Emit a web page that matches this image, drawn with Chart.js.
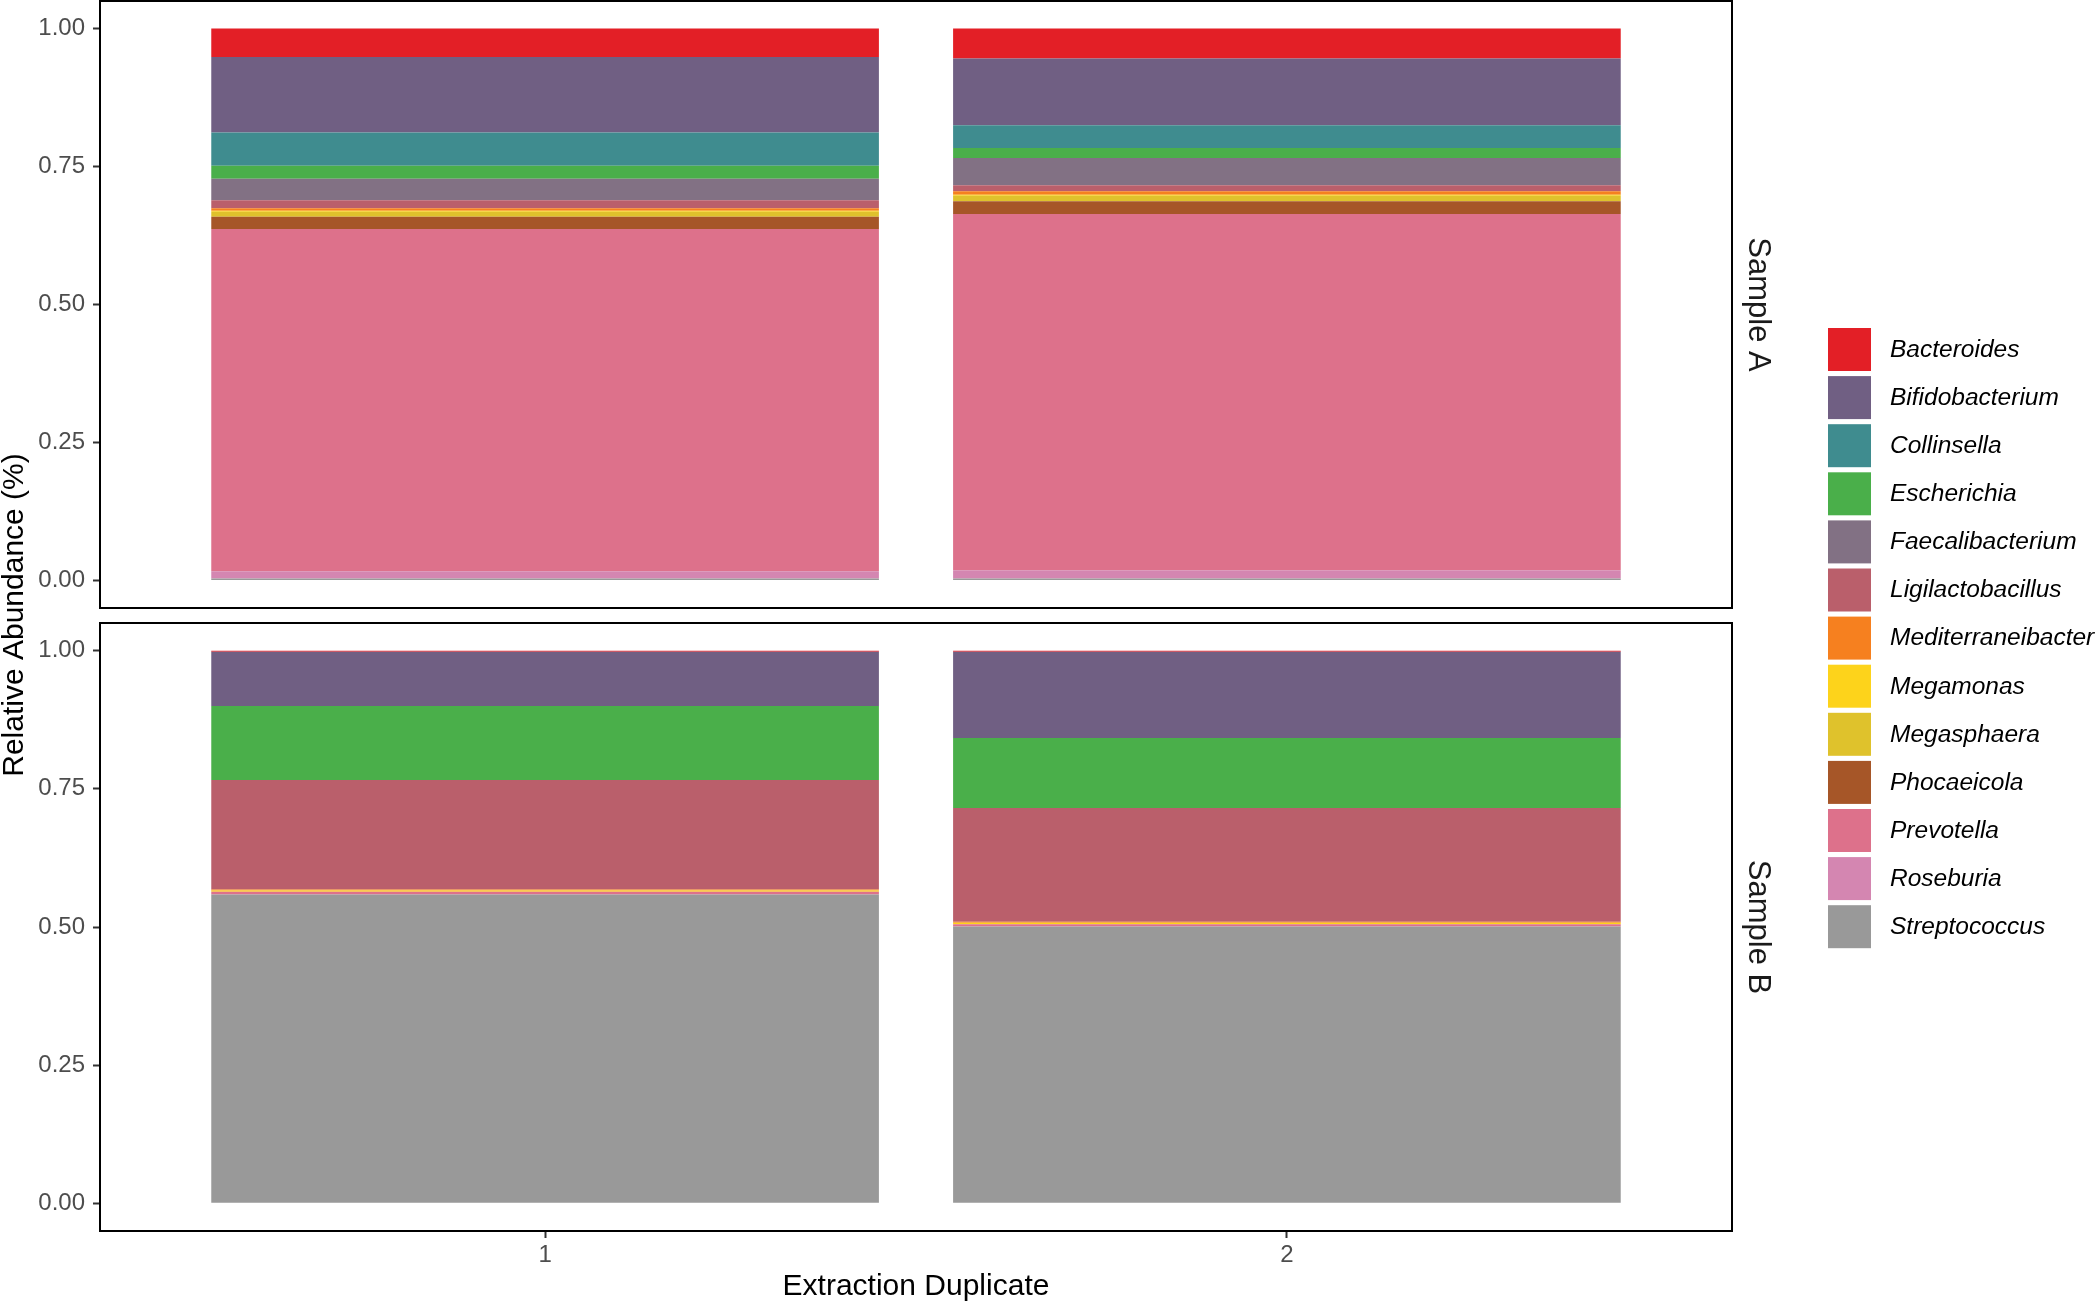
<!DOCTYPE html>
<html>
<head>
<meta charset="utf-8">
<title>Relative Abundance</title>
<script src="https://cdn.jsdelivr.net/npm/chart.js@4.4.1/dist/chart.umd.min.js"></script>
<style>
  html, body { margin: 0; padding: 0; background: #ffffff; }
  #wrap { position: relative; width: 2100px; height: 1304px; }
  #wrap canvas { position: absolute; left: 0; top: 0; }
</style>
</head>
<body>
<div id="wrap">
  <canvas id="chartA" width="2100" height="1304"></canvas>
  <canvas id="chartB" width="2100" height="1304"></canvas>
</div>
<script>
// Datos
const duplicates = [1, 2];
const duplicateLabels = ['1', '2'];
const yTicks = [0, 0.25, 0.5, 0.75, 1];
const genera = ['Bacteroides', 'Bifidobacterium', 'Collinsella', 'Escherichia', 'Faecalibacterium',
  'Ligilactobacillus', 'Mediterraneibacter', 'Megamonas', 'Megasphaera', 'Phocaeicola',
  'Prevotella', 'Roseburia', 'Streptococcus'];
const genusColors = ['#e31f26', '#705f83', '#3f8c8f', '#4aaf4a', '#827184',
  '#ba5f6b', '#f6801f', '#fdd31b', '#dfc22c', '#a65628',
  '#dd718b', '#d486b1', '#999999'];
// relative abundance per genus (same order as genera)
const sampleA1 = [0.0515, 0.137, 0.060, 0.0236, 0.039, 0.0145, 0.0043, 0.002, 0.009, 0.0222, 0.6203, 0.0132, 0.0034];
const sampleA2 = [0.0544, 0.1206, 0.0416, 0.0181, 0.0494, 0.0108, 0.0062, 0.002, 0.0099, 0.023, 0.6456, 0.015, 0.0034];
const sampleB1 = [0.002, 0.098, 0, 0.134, 0, 0.198, 0.002, 0.002, 0, 0, 0.005, 0, 0.559];
const sampleB2 = [0.002, 0.156, 0, 0.1265, 0, 0.206, 0.002, 0.0025, 0, 0, 0.004, 0, 0.501];

const FONT = "'Liberation Sans', Arial, Helvetica, sans-serif";

// ggplot pone el primer nivel arriba; Chart.js apila el primer dataset abajo
function buildDatasets(dup1, dup2) {
  return genera.map((g, i) => ({
    label: g,
    data: [{x: duplicates[0], y: dup1[i]}, {x: duplicates[1], y: dup2[i]}],
    backgroundColor: genusColors[i],
    borderWidth: 0,
    barPercentage: 0.9,
    categoryPercentage: 1.0
  })).reverse();
}

function yScale() {
  return {
    type: 'linear',
    stacked: true,
    min: -0.05,
    max: 1.05,
    afterBuildTicks: s => { s.ticks = yTicks.map(v => ({value: v})); },
    afterFit: s => { s.width = 100; s.paddingTop = 0; s.paddingBottom = 0; },
    ticks: {
      callback: v => v.toFixed(2),
      color: '#4d4d4d',
      font: {family: FONT, size: 24},
      padding: 8
    },
    grid: {drawOnChartArea: false, drawTicks: true, tickLength: 7, tickColor: '#333333', tickWidth: 2},
    border: {display: false}
  };
}

function xScale(showAxis) {
  return {
    type: 'linear',
    stacked: true,
    offset: false,
    min: 0.4,
    max: 2.6,
    afterBuildTicks: s => { s.ticks = duplicates.map(v => ({value: v})); },
    afterFit: s => { s.height = showAxis ? 73 : 0; s.paddingLeft = 0; s.paddingRight = 0; },
    ticks: {
      display: showAxis,
      callback: v => duplicateLabels[duplicates.indexOf(v)],
      color: '#4d4d4d',
      font: {family: FONT, size: 24},
      padding: 3,
      maxRotation: 0
    },
    grid: {display: showAxis, offset: false, drawOnChartArea: false, drawTicks: true, tickLength: 7, tickColor: '#333333', tickWidth: 2},
    border: {display: false},
    title: {
      display: showAxis,
      text: 'Extraction Duplicate',
      color: '#000000',
      font: {family: FONT, size: 30, lineHeight: 1},
      padding: {top: 0, bottom: 2}
    }
  };
}

// Marco del panel y etiqueta de la faceta
const panelFrame = {
  id: 'panelFrame',
  afterDraw(chart, args, opts) {
    const {ctx, chartArea: a} = chart;
    ctx.save();
    ctx.strokeStyle = '#000000';
    ctx.lineWidth = 2;
    ctx.strokeRect(a.left, a.top, a.right - a.left, a.bottom - a.top);
    ctx.translate(a.right + 26, (a.top + a.bottom) / 2);
    ctx.rotate(Math.PI / 2);
    ctx.fillStyle = '#1a1a1a';
    ctx.font = '31px ' + FONT;
    ctx.textAlign = 'center';
    ctx.textBaseline = 'middle';
    ctx.fillText(opts.label, 0, 0);
    ctx.restore();
  }
};

// Titulo del eje Y comun y leyenda
const figureExtras = {
  id: 'figureExtras',
  afterDraw(chart) {
    const ctx = chart.ctx;
    ctx.save();
    ctx.translate(15, 615);
    ctx.rotate(-Math.PI / 2);
    ctx.fillStyle = '#000000';
    ctx.font = '30px ' + FONT;
    ctx.textAlign = 'center';
    ctx.textBaseline = 'middle';
    ctx.fillText('Relative Abundance (%)', 0, 0);
    ctx.restore();

    ctx.save();
    ctx.font = 'italic 24.5px ' + FONT;
    ctx.textBaseline = 'middle';
    ctx.textAlign = 'left';
    genera.forEach((g, i) => {
      const y = 328 + i * 48.1;
      ctx.fillStyle = genusColors[i];
      ctx.fillRect(1828, y, 43, 43);
      ctx.fillStyle = '#000000';
      ctx.fillText(g, 1890, y + 22);
    });
    ctx.restore();
  }
};

function makeChart(id, datasets, label, padding, showAxis, extraPlugins) {
  return new Chart(document.getElementById(id), {
    type: 'bar',
    data: {datasets: datasets},
    options: {
      responsive: false,
      animation: false,
      devicePixelRatio: 1,
      layout: {padding: padding},
      plugins: {
        legend: {display: false},
        tooltip: {enabled: true},
        panelFrame: {label: label}
      },
      scales: {
        x: xScale(showAxis),
        y: yScale()
      }
    },
    plugins: [panelFrame].concat(extraPlugins)
  });
}

makeChart('chartA', buildDatasets(sampleA1, sampleA2), 'Sample A',
  {top: 1, right: 368, bottom: 696, left: 0}, false, [figureExtras]);
makeChart('chartB', buildDatasets(sampleB1, sampleB2), 'Sample B',
  {top: 623, right: 368, bottom: 0, left: 0}, true, []);
</script>
</body>
</html>
